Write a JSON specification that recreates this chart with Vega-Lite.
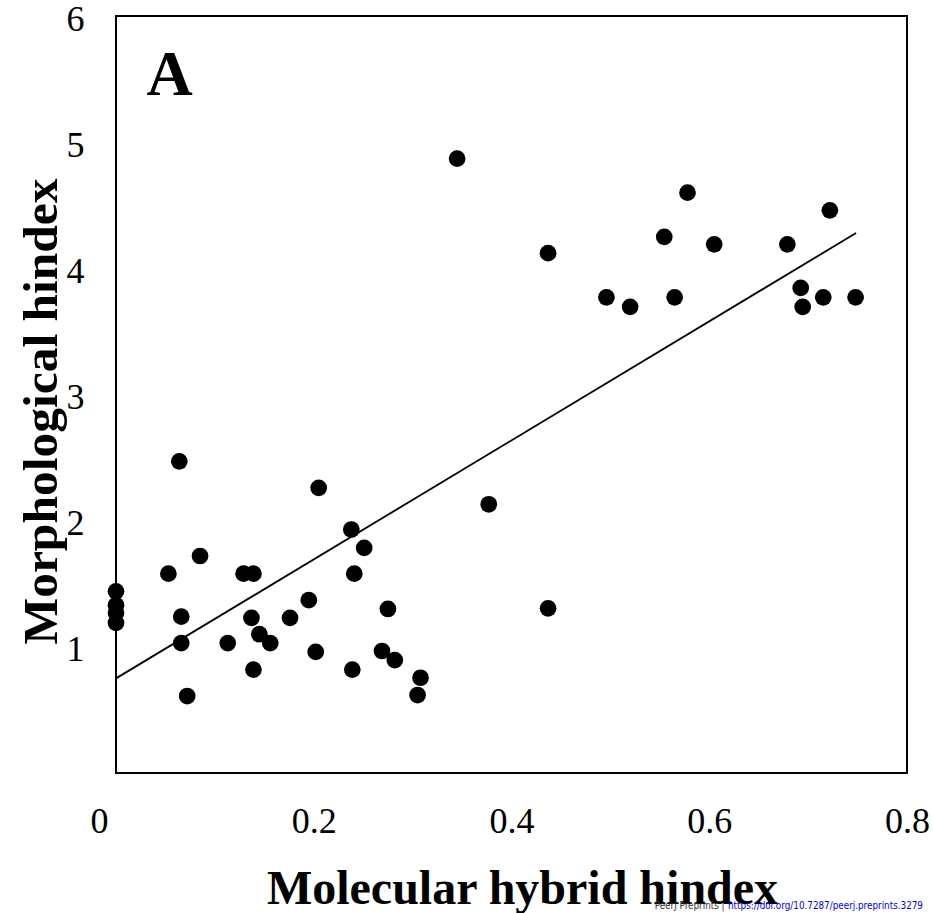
{
  "$schema": "https://vega.github.io/schema/vega-lite/v6.json",
  "autosize": {"type": "none"},
  "padding": {"left": 116, "top": 16, "right": 26, "bottom": 140},
  "width": 791,
  "height": 757,
  "background": "white",
  "config": {
    "view": {"stroke": "black", "strokeWidth": 2},
    "font": "Liberation Serif",
    "axis": {"domain": false, "grid": false, "ticks": false, "labelColor": "black", "titleColor": "black"}
  },
  "datasets": {
    "points": [
      {"molecular": 0.0, "morphological": 1.44},
      {"molecular": 0.0, "morphological": 1.33},
      {"molecular": 0.0, "morphological": 1.27},
      {"molecular": 0.0, "morphological": 1.19},
      {"molecular": 0.053, "morphological": 1.58},
      {"molecular": 0.064, "morphological": 2.47},
      {"molecular": 0.066, "morphological": 1.24},
      {"molecular": 0.066, "morphological": 1.03},
      {"molecular": 0.072, "morphological": 0.61},
      {"molecular": 0.085, "morphological": 1.72},
      {"molecular": 0.113, "morphological": 1.03},
      {"molecular": 0.129, "morphological": 1.58},
      {"molecular": 0.139, "morphological": 1.58},
      {"molecular": 0.137, "morphological": 1.23},
      {"molecular": 0.145, "morphological": 1.1},
      {"molecular": 0.139, "morphological": 0.82},
      {"molecular": 0.156, "morphological": 1.03},
      {"molecular": 0.176, "morphological": 1.23},
      {"molecular": 0.195, "morphological": 1.37},
      {"molecular": 0.202, "morphological": 0.96},
      {"molecular": 0.205, "morphological": 2.26},
      {"molecular": 0.238, "morphological": 1.93},
      {"molecular": 0.241, "morphological": 1.58},
      {"molecular": 0.239, "morphological": 0.82},
      {"molecular": 0.251, "morphological": 1.785},
      {"molecular": 0.269, "morphological": 0.967},
      {"molecular": 0.275, "morphological": 1.3},
      {"molecular": 0.282, "morphological": 0.895},
      {"molecular": 0.305, "morphological": 0.618},
      {"molecular": 0.308, "morphological": 0.755},
      {"molecular": 0.345, "morphological": 4.87},
      {"molecular": 0.377, "morphological": 2.13},
      {"molecular": 0.437, "morphological": 4.12},
      {"molecular": 0.437, "morphological": 1.305},
      {"molecular": 0.496, "morphological": 3.77},
      {"molecular": 0.52, "morphological": 3.695},
      {"molecular": 0.5545, "morphological": 4.25},
      {"molecular": 0.565, "morphological": 3.77},
      {"molecular": 0.578, "morphological": 4.6},
      {"molecular": 0.605, "morphological": 4.19},
      {"molecular": 0.679, "morphological": 4.19},
      {"molecular": 0.6925, "morphological": 3.845},
      {"molecular": 0.6945, "morphological": 3.695},
      {"molecular": 0.7153, "morphological": 3.77},
      {"molecular": 0.722, "morphological": 4.46},
      {"molecular": 0.748, "morphological": 3.77}
    ],
    "trend": [
      {"molecular": 0.0, "morphological": 0.75},
      {"molecular": 0.7485, "morphological": 4.28}
    ],
    "notes": [
      {"label": "A", "role": "panel"},
      {"label": "PeerJ Preprints |", "role": "source"},
      {"label": "https://doi.org/10.7287/peerj.preprints.3279", "role": "link"}
    ]
  },
  "layer": [
    {
      "data": {"name": "points"},
      "mark": {"type": "point", "shape": "circle", "filled": true, "color": "black", "opacity": 1, "size": 280},
      "encoding": {
        "x": {
          "field": "molecular", "type": "quantitative",
          "title": "Molecular hybrid hindex",
          "scale": {"domain": [0, 0.8], "nice": false, "zero": false},
          "axis": {
            "values": [0, 0.2, 0.4, 0.6, 0.8],
            "format": "~g",
            "labelFlush": false,
            "labelFont": "Liberation Serif",
            "labelFontSize": 36,
            "labelPadding": 31,
            "labelOffset": {"condition": {"test": "datum.value === 0", "value": -17}, "value": 0},
            "titleFont": "Liberation Serif",
            "titleFontSize": 48,
            "titleFontWeight": "bold",
            "titleX": 406,
            "titleY": 130,
            "titleAlign": "center",
            "titleBaseline": "alphabetic"
          }
        },
        "y": {
          "field": "morphological", "type": "quantitative",
          "title": "Morphological hindex",
          "scale": {"domain": [0, 6], "nice": false, "zero": false},
          "axis": {
            "values": [1, 2, 3, 4, 5, 6],
            "format": "d",
            "labelFlush": false,
            "labelFont": "Liberation Serif",
            "labelFontSize": 36,
            "labelPadding": 32,
            "labelBaseline": "middle",
            "labelOffset": 3,
            "titleFont": "Liberation Serif",
            "titleFontSize": 49.5,
            "titleFontWeight": "bold",
            "titleAngle": -90,
            "titleX": -60,
            "titleY": 395,
            "titleAlign": "center",
            "titleBaseline": "alphabetic"
          }
        }
      }
    },
    {
      "data": {"name": "trend"},
      "mark": {"type": "line", "color": "black", "strokeWidth": 1.8},
      "encoding": {
        "x": {"field": "molecular", "type": "quantitative", "title": "Molecular hybrid hindex"},
        "y": {"field": "morphological", "type": "quantitative", "title": "Morphological hindex"}
      }
    },
    {
      "data": {"name": "notes"},
      "transform": [{"filter": "datum.role === 'panel'"}],
      "mark": {"type": "text", "font": "Liberation Serif", "fontSize": 64, "fontWeight": "bold", "color": "black", "align": "center", "baseline": "alphabetic"},
      "encoding": {
        "text": {"field": "label"},
        "x": {"datum": 0.0541},
        "y": {"datum": 5.374}
      }
    },
    {
      "data": {"name": "notes"},
      "transform": [{"filter": "datum.role === 'source'"}],
      "mark": {"type": "text", "font": "DejaVu Sans Condensed, sans-serif", "fontSize": 9.8, "color": "#333333", "align": "right", "baseline": "alphabetic"},
      "encoding": {
        "text": {"field": "label"},
        "x": {"datum": 0.6155},
        "y": {"datum": -1.078}
      }
    },
    {
      "data": {"name": "notes"},
      "transform": [{"filter": "datum.role === 'link'"}],
      "mark": {"type": "text", "font": "DejaVu Sans Condensed, sans-serif", "fontSize": 9.8, "color": "#0000ee", "align": "left", "baseline": "alphabetic"},
      "encoding": {
        "text": {"field": "label"},
        "x": {"datum": 0.619},
        "y": {"datum": -1.078}
      }
    }
  ]
}
